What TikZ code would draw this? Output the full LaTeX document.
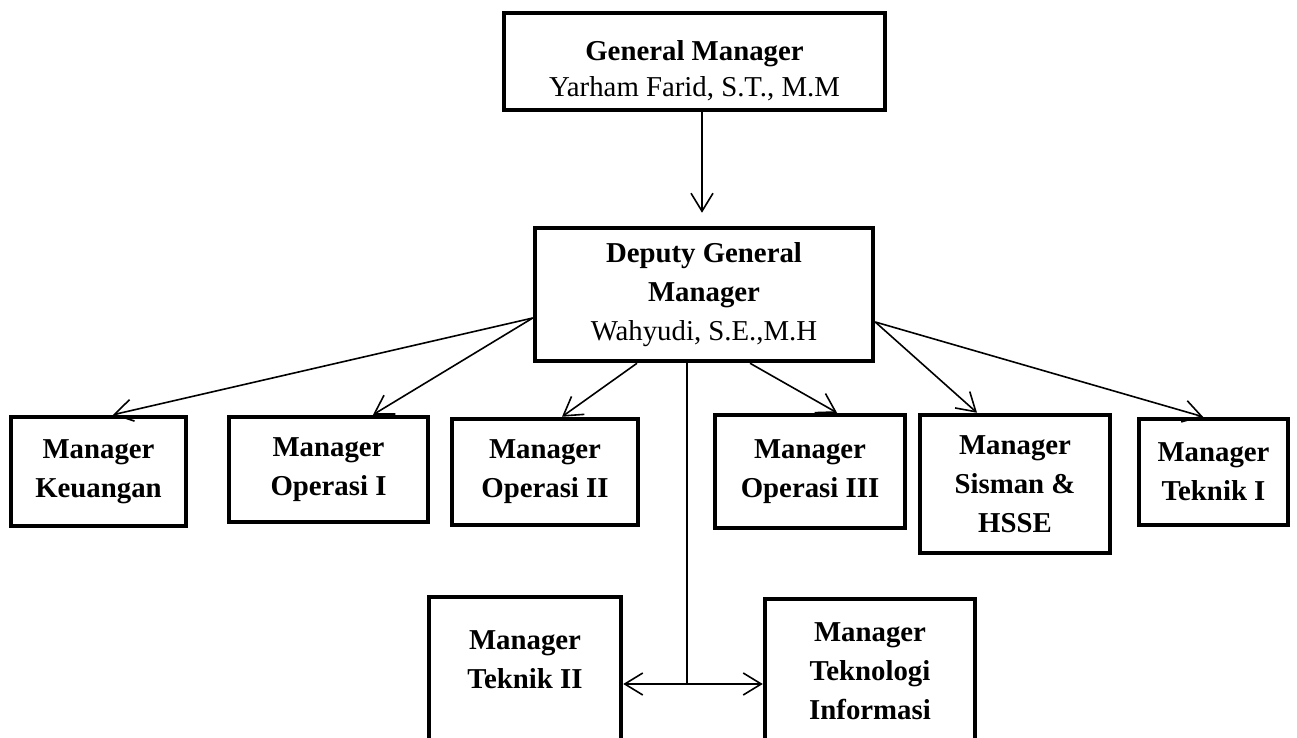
\documentclass[tikz,border=0pt]{standalone}
\usepackage{fontspec}
\setmainfont{Liberation Serif}
\usepackage{tikz}
\usetikzlibrary{arrows.meta,calc}

\begin{document}
\begin{tikzpicture}[x=0.5pt,y=-0.5pt,
    box/.style={draw,line width=2.25pt,align=center,inner sep=0pt,
      font=\fontsize{14.4}{19.5}\selectfont},
    link/.style={-{Straight Barb[length=9pt,width=11pt]},line width=0.8pt},
    line/.style={line width=0.8pt}]
  % page
  \clip (0,0) rectangle (1297,738);

  % top
  \node[box,minimum width=190.5pt,minimum height=48.5pt,
    font=\fontsize{14.4}{18}\selectfont] (gm) at (694.5,61.5)
    {\rule{0pt}{19pt}\textbf{General Manager}\\Yarham Farid, S.T., M.M};
  \node[box,minimum width=169pt,minimum height=66.5pt] (dep) at (704,294.5)
    {\textbf{Deputy General}\\\textbf{Manager}\\Wahyudi, S.E.,M.H};

  % row of managers
  \node[box,minimum width=87.5pt,minimum height=54.5pt] (keu) at (98.5,471.5)
    {\textbf{Manager}\\\textbf{Keuangan}};
  \node[box,minimum width=99.5pt,minimum height=52.5pt] (op1) at (328.5,469.5)
    {\textbf{Manager}\\\textbf{Operasi I}};
  \node[box,minimum width=93pt,minimum height=53pt] (op2) at (545,472)
    {\textbf{Manager}\\\textbf{Operasi II}};
  \node[box,minimum width=95pt,minimum height=56.5pt] (op3) at (810,471.5)
    {\textbf{Manager}\\\textbf{Operasi III}};
  \node[box,minimum width=95pt,minimum height=69pt] (sis) at (1015,484)
    {\textbf{Manager}\\\textbf{Sisman \&}\\\textbf{HSSE}};
  \node[box,minimum width=74.5pt,minimum height=53pt] (tk1) at (1213.5,472)
    {\textbf{Manager}\\\textbf{Teknik I}};

  % bottom pair
  \node[box,minimum width=96pt,minimum height=73pt] (tk2) at (525,670)
    {\textbf{Manager}\\\textbf{Teknik II}\rule[-10pt]{0pt}{10pt}};
  \node[box,minimum width=105pt,minimum height=72pt] (tki) at (870,671)
    {\textbf{Manager}\\\textbf{Teknologi}\\\textbf{Informasi}};

  % connectors
  \draw[link] ([xshift=3.75pt]gm.south) -- ([xshift=-1pt,yshift=6.5pt]dep.north);

  \draw[link] ([yshift=-11.75pt]dep.west) -- ([xshift=7.25pt]keu.north);
  \draw[link] ([yshift=-11.75pt]dep.west) -- ([xshift=22.25pt]op1.north);
  \draw[link] ([xshift=-33.5pt]dep.south) -- ([xshift=8.5pt]op2.north);
  \draw[link] ([xshift=23pt]dep.south) -- ([xshift=13.5pt]op3.north);
  \draw[link] ([yshift=-13.75pt]dep.east) -- ([xshift=-19pt]sis.north);
  \draw[link] ([yshift=-13.75pt]dep.east) -- ([xshift=-5.25pt]tk1.north);

  \coordinate (junc) at (687,684);
  \draw[line] (dep.south -| junc) -- (junc);
  \draw[link] (junc) -- (junc -| tk2.east);
  \draw[link] (junc) -- (junc -| tki.west);
\end{tikzpicture}
\end{document}
